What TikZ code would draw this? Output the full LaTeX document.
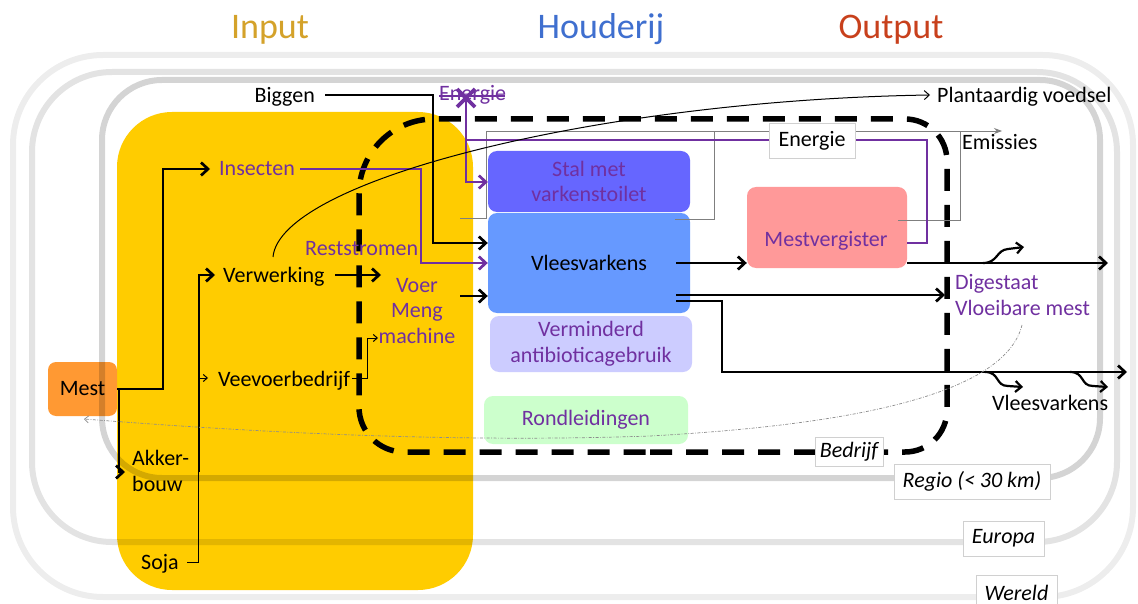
\documentclass[tikz,border=0pt]{standalone}
\usepackage{fontspec}
\setmainfont{Carlito}
\usetikzlibrary{arrows.meta}
\newcommand\bodyfs{\fontsize{22}{25.5}\selectfont}
\newcommand\titlefs{\fontsize{36}{40}\selectfont}
\definecolor{inyellow}{HTML}{FFCC00}
\definecolor{vpurple}{HTML}{7030A0}
\definecolor{stalblue}{HTML}{6666FF}
\definecolor{vleesblue}{HTML}{6699FF}
\definecolor{antililac}{HTML}{CCCCFF}
\definecolor{rondgreen}{HTML}{CCFFCC}
\definecolor{mestpink}{HTML}{FF9999}
\definecolor{mestorange}{HTML}{FF9933}
\definecolor{titlegold}{HTML}{D4A22A}
\definecolor{titleblue}{HTML}{3F6FCF}
\definecolor{titlered}{HTML}{C8401C}
\definecolor{tagline}{HTML}{D0D0D0}
\definecolor{emisgray}{HTML}{7F7F7F}
\definecolor{dotgray}{HTML}{8C8C8C}
\begin{document}
\begin{tikzpicture}[x=1pt,y=-1pt,
  txt/.style={font=\bodyfs, inner sep=0pt},
  vtxt/.style={txt, text=vpurple},
  itag/.style={font=\bodyfs\itshape, draw=tagline, line width=0.8pt, fill=white, inner sep=0pt},
  hbox/.style={rounded corners=9pt, inner sep=0pt, align=center, font=\bodyfs},
  ring/.style={line width=6pt, draw=black},
  flow/.style={line width=2.7pt, -{Straight Barb[length=7pt,width=13pt]}},
  pflow/.style={flow, draw=vpurple},
  thinflow/.style={line width=1pt, -{Straight Barb[length=4pt,width=7pt]}},
  emis/.style={line width=0.9pt, draw=emisgray},
  wiggle/.style={line width=2.2pt, -{Straight Barb[length=6pt,width=11pt]}},
  dotline/.style={line width=0.7pt, draw=dotgray, dash pattern=on 3pt off 1.5pt on 0.8pt off 1.5pt, -{Straight Barb[length=4pt,width=7pt]}},
  title/.style={font=\titlefs, inner sep=0pt, anchor=base}
]
\useasboundingbox (0,0) rectangle (1138,604);
\fill[white] (0,0) rectangle (1138,604);

% input area and manure source
\fill[inyellow, rounded corners=55pt] (117,112) rectangle (473,590);
\node[hbox, fill=mestorange, minimum width=69pt, minimum height=54pt, rounded corners=8pt] (mest) at (82.5,389) {Mest};

% scale rings: world, Europe, region
\draw[ring, draw opacity=0.07, rounded corners=90pt] (13,55) rectangle (1133,597);
\draw[ring, draw opacity=0.11, rounded corners=80pt] (32,72) rectangle (1117,542);
\draw[ring, draw opacity=0.17, rounded corners=60pt] (102,80) rectangle (1100,478);

\node[itag, minimum width=156pt, minimum height=35pt] (regio) at (972,481.5) {Regio (< 30 km)};
\node[itag, minimum width=81pt, minimum height=35pt] (europa) at (1003.5,538.5) {Europa};
\node[itag, minimum width=81pt, minimum height=35pt] (wereld) at (1016.5,592.5) {Wereld};

% column titles
\node[title, text=titlegold] (tin) at (270,39) {Input};
\node[title, text=titleblue] (thoud) at (601,39) {Houderij};
\node[title, text=titlered] (tout) at (891,39) {Output};

% farm boundary
\draw[line width=5.5pt, dash pattern=on 22pt off 14pt]
  (650,452) [rounded corners=42pt] -| (947,285) |- (650,119)
  [rounded corners=75pt] -| (359,285)
  [rounded corners=45pt] |- (650,452);
\node[itag, minimum width=68pt, minimum height=29pt] (bedrijf) at (849,451.5) {Bedrijf};

% farm units
\node[hbox, fill=stalblue, text=vpurple, minimum width=202pt, minimum height=61pt] (stal) at (589,181.5) {Stal met\\varkenstoilet};
\node[hbox, fill=vleesblue, minimum width=202pt, minimum height=100pt] (vlees) at (589,263) {Vleesvarkens};
\node[hbox, fill=antililac, text=vpurple, minimum width=202pt, minimum height=56pt] (anti) at (591,344) {Verminderd\\antibioticagebruik};
\node[hbox, fill=rondgreen, text=vpurple, minimum width=204pt, minimum height=48pt] (rond) at (586,420) {Rondleidingen};
\node[hbox, fill=mestpink, minimum width=160pt, minimum height=81pt] (mestv) at (827,227.5) {};
\node[vtxt, anchor=base] (mestvt) at (826,247) {Mestvergister};

% emissions
\draw[emis, -{Stealth[length=8pt,width=6pt]}] (460,218) -- (486,218) -- (486,131) -- (1002,131);
\draw[emis] (675,219) -| (714,131);
\draw[emis] (898,220) -| (960,131);

% energy and insect flows
\draw[line width=2.7pt, draw=vpurple] (mestv.east |- 0,243) -| (927,140) -- (466,140);
\draw[pflow] (466,97) |- (stal.west |- 0,182);
\draw[vpurple, line width=3.8pt] (457,89) -- (475,107) (475,89) -- (457,107);
\draw[vpurple, line width=1.2pt] (439,96) -- (505,96);
\draw[pflow] (300,169) -| (421,263) -- (vlees.west |- 0,263);

% material flows
\draw[flow] (325,95) -| (433,243) -- (vlees.west |- 0,243);
\draw[flow] (mest.east |- 0,389) -| (163,169) -- (210,169);
\draw[flow] (119,389) |- (125,472);
\draw[flow] (199,472) |- (215,275);
\draw[thinflow] (187,562) -| (198,378) -- (208,378);
\draw[flow] (335,275) -- (381,275);
\draw[flow] (460,296) -- (vlees.west |- 0,296);
\draw[thinflow] (352,378) -| (367,338) -- (378,338);
\draw[flow] (676,263) -- (mestv.west |- 0,263);
\draw[flow] (mestv.east |- 0,263) -- (1108,263);
\draw[flow] (676,295) -- (945,295);
\draw[flow] (676,301) -| (722,372) -- (1127,372);
\draw[wiggle] (983,263) .. controls (998,263) and (996,250) .. (1008,249) -- (1024,247);
\draw[wiggle] (985,372) .. controls (1000,372) and (995,386) .. (1008,386) -- (1023,387);
\draw[wiggle] (1070,372) .. controls (1085,372) and (1080,386) .. (1093,386) -- (1108,387);

% plant food and manure return
\draw[line width=1pt, -{Straight Barb[length=5pt,width=9pt]}] (273,257) .. controls (280,180) and (600,100) .. (930,95);
\draw[dotline] (1022,325) .. controls (1005,395) and (850,425) .. (650,436) .. controls (450,443) and (250,432) .. (84,419);

% labels
\node[txt, anchor=base east] (biggen) at (315,103) {Biggen};
\node[vtxt, anchor=base west] (energie) at (439,101) {Energie};
\node[txt, anchor=base west] (plant) at (937,103) {Plantaardig voedsel};
\node[txt, anchor=base west] (emissies) at (962,150) {Emissies};
\node[vtxt, anchor=base west] (insect) at (219,176) {Insecten};
\node[vtxt, anchor=base west] (rest) at (305,255) {Reststromen};
\node[txt, anchor=base west] (verw) at (223,282) {Verwerking};
\node[vtxt, align=center] (voer) at (417,311) {Voer\\Meng\\machine};
\node[txt, anchor=base west] (veevoer) at (218,386) {Veevoerbedrijf};
\node[txt, align=left, anchor=west] (akker) at (132,471) {Akker-\\bouw};
\node[txt, anchor=base west] (soja) at (141,569) {Soja};
\node[vtxt, align=left, anchor=west] (dig) at (955,295) {Digestaat\\Vloeibare mest};
\node[txt, anchor=base west] (vout) at (992,410) {Vleesvarkens};
\node[txt, draw=tagline, line width=0.8pt, fill=white, minimum width=86pt, minimum height=35pt] (energiebox) at (812,140.5) {Energie};
\end{tikzpicture}
\end{document}
